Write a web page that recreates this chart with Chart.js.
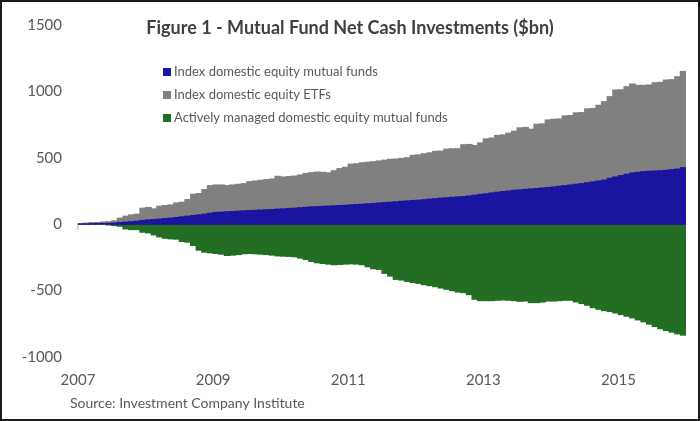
<!DOCTYPE html>
<html>
<head>
<meta charset="utf-8">
<title>Mutual Fund Net Cash Investments</title>
<script src="https://cdn.jsdelivr.net/npm/chart.js@4.4.1/dist/chart.umd.min.js"></script>
<style>
  html, body { margin: 0; padding: 0; background: #fff; }
</style>
</head>
<body>
<canvas id="chart" width="700" height="421"></canvas>
<script>
// monthly data, Jan 2007 - Dec 2015, cumulative $bn
const years = [2007, 2008, 2009, 2010, 2011, 2012, 2013, 2014, 2015];
const yearLabels = ['2007', '2009', '2011', '2013', '2015'];
const yTicks = [-1000, -500, 0, 500, 1000, 1500];

const months = [];
years.forEach(y => {
  for (let m = 1; m <= 12; m++) months.push(y + '-' + String(m).padStart(2, '0'));
});

const indexMutual = [
  1, 2, 3, 4, 5, 6, 8, 12, 15, 18, 22, 28,
  32, 35, 38, 42, 45, 50, 55, 60, 65, 70, 75, 82,
  88, 90, 93, 95, 98, 100, 102, 104, 106, 108, 110, 113,
  115, 118, 120, 123, 127, 130, 132, 134, 136, 138, 140, 142,
  145, 148, 150, 153, 156, 159, 162, 165, 168, 172, 175, 178,
  180, 184, 188, 192, 196, 199, 202, 205, 208, 212, 218, 224,
  228, 235, 240, 245, 250, 255, 258, 262, 265, 268, 272, 276,
  280, 285, 290, 295, 300, 305, 312, 318, 325, 332, 345, 355,
  365, 375, 385, 390, 395, 398, 400, 402, 405, 410, 415, 425
];

const indexEtf = [
  2, 4, 6, 8, 9, 12, 17, 33, 45, 52, 53, 92,
  93, 80, 97, 98, 100, 110, 110, 125, 160, 160, 185, 208,
  207, 205, 197, 200, 202, 205, 218, 221, 224, 227, 230, 247,
  240, 240, 242, 247, 255, 258, 260, 256, 250, 264, 278, 286,
  307, 307, 312, 313, 314, 317, 320, 323, 322, 323, 325, 340,
  342, 346, 349, 356, 354, 366, 365, 363, 390, 388, 374, 388,
  414, 413, 428, 427, 435, 445, 467, 466, 450, 484, 483, 509,
  510, 507, 525, 523, 538, 535, 556, 552, 570, 590, 615, 655,
  647, 660, 670, 655, 650, 650, 665, 666, 680, 678, 695, 725
];

const activeMutual = [
  0, 0, 0, 0, 0, -5, -10, -15, -35, -40, -40, -60,
  -65, -80, -95, -105, -110, -112, -130, -135, -160, -195, -210, -215,
  -220, -225, -235, -232, -228, -222, -220, -222, -225, -228, -232, -238,
  -240, -242, -245, -255, -265, -280, -290, -295, -300, -305, -303, -300,
  -298, -300, -305, -320, -335, -340, -370, -390, -415, -420, -430, -438,
  -445, -455, -462, -470, -480, -490, -500, -510, -515, -530, -565, -575,
  -575, -575, -572, -570, -572, -575, -580, -578, -590, -590, -585, -578,
  -578, -575, -572, -572, -585, -597, -610, -628, -640, -650, -657, -668,
  -680, -692, -705, -720, -735, -752, -770, -787, -800, -812, -825, -835
];

const titleText = 'Figure 1 - Mutual Fund Net Cash Investments ($bn)';
const sourceText = 'Source: Investment Company Institute';
const textColor = '#595959';

// title, legend, source line and frame drawn on top of the chart
const extras = {
  id: 'extras',
  afterDraw(chart) {
    const ctx = chart.ctx;
    ctx.save();
    ctx.fillStyle = '#404040';
    ctx.font = 'bold 18px Lato';
    ctx.textAlign = 'center';
    ctx.textBaseline = 'middle';
    ctx.fillText(titleText, chart.width / 2, 28);

    ctx.font = '13px Lato';
    ctx.textAlign = 'left';
    chart.data.datasets.forEach((ds, i) => {
      const y = 72 + i * 23;
      ctx.fillStyle = ds.backgroundColor;
      ctx.fillRect(163, y - 4, 8, 8);
      ctx.fillStyle = textColor;
      ctx.fillText(ds.label, 174, y);
    });

    ctx.font = '14px Lato';
    ctx.fillStyle = textColor;
    ctx.fillText(sourceText, 70, 403);

    ctx.strokeStyle = '#1a1a1a';
    ctx.lineWidth = 2;
    ctx.strokeRect(1, 1, chart.width - 2, chart.height - 2);
    ctx.restore();
  }
};

const yearTick = (i) => {
  const lab = months[i];
  return lab && lab.endsWith('-01') && yearLabels.includes(lab.slice(0, 4));
};

new Chart(document.getElementById('chart'), {
  type: 'bar',
  data: {
    labels: months,
    datasets: [
      { label: 'Index domestic equity mutual funds', data: indexMutual, backgroundColor: '#1b14a0', xAxisID: 'x' },
      { label: 'Index domestic equity ETFs', data: indexEtf, backgroundColor: '#808080', xAxisID: 'x' },
      { label: 'Actively managed domestic equity mutual funds', data: activeMutual, backgroundColor: '#246e24', xAxisID: 'x' }
    ]
  },
  options: {
    responsive: false,
    animation: false,
    layout: { padding: { left: 0, right: 14, top: 21, bottom: 0 } },
    datasets: {
      bar: { barPercentage: 1, categoryPercentage: 1, borderWidth: 0, inflateAmount: 0.6 }
    },
    plugins: {
      legend: { display: false },
      title: { display: false },
      tooltip: { enabled: false }
    },
    scales: {
      x: {
        stacked: true,
        offset: true,
        grid: { display: false, drawTicks: false },
        border: { display: false },
        ticks: {
          autoSkip: false, maxRotation: 0, minRotation: 0,
          padding: 14, labelOffset: -2.8,
          color: textColor, font: { family: 'Lato', size: 15 },
          callback: (v, i) => yearTick(i) ? months[i].slice(0, 4) : ''
        },
        afterFit: s => { s.height = 64; }
      },
      x2: {
        type: 'category',
        position: { y: 0 },
        offset: true,
        z: 1,
        grid: {
          offset: true, drawOnChartArea: false, drawTicks: true, tickLength: 5, lineWidth: 1.5,
          color: ctx => yearTick(ctx.index) ? '#d0d0d8' : 'rgba(0,0,0,0)'
        },
        border: { display: true, color: '#d0d0d8', width: 2 },
        ticks: { display: false, autoSkip: false }
      },
      y: {
        stacked: true,
        min: yTicks[0],
        max: yTicks[yTicks.length - 1],
        grid: { display: false, drawTicks: false },
        border: { display: false },
        ticks: {
          stepSize: 500, padding: 16,
          color: textColor, font: { family: 'Lato', size: 15 },
          callback: v => String(v)
        },
        afterFit: s => { s.width = 78; }
      }
    }
  },
  plugins: [extras]
});
</script>
</body>
</html>
